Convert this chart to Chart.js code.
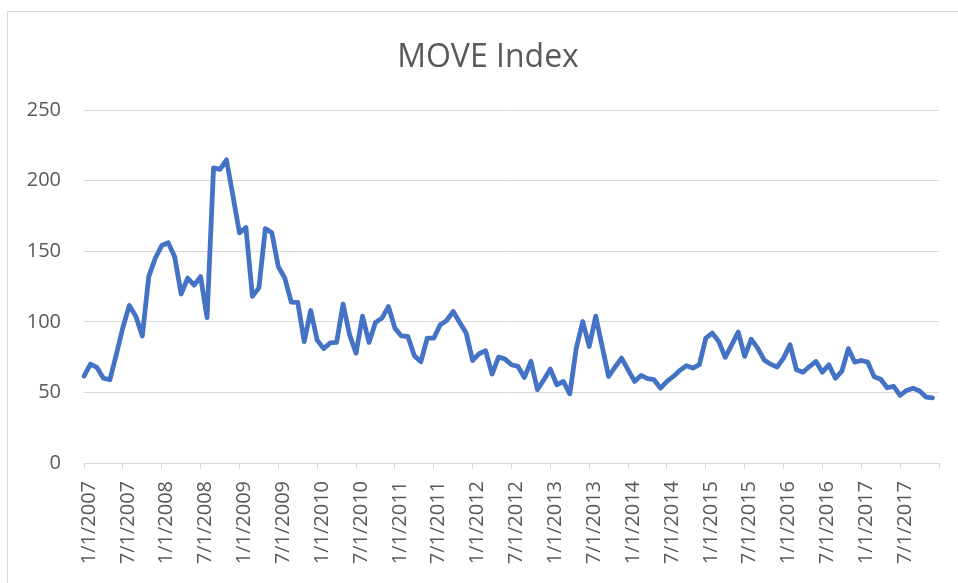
<!DOCTYPE html>
<html>
<head>
<meta charset="utf-8">
<script src="https://cdn.jsdelivr.net/npm/chart.js@4.4.1/dist/chart.umd.min.js"></script>
<style>
    html, body { margin: 0; padding: 0; background: #fff; overflow: hidden; }
    #wrap { position: relative; width: 958px; height: 583px; }
    #frame {
        position: absolute; left: 7px; top: 11px;
        width: 1000px; height: 700px;
        border: 1px solid #d9d9d9;
    }
    #chart { position: absolute; left: 0; top: 0; }
</style>
</head>
<body>
<div id="wrap">
    <div id="frame"></div>
    <canvas id="chart" width="958" height="583"></canvas>
</div>
<script>
// -----------------------------
// data (monthly, 2007 - 2017)
// -----------------------------
const years = [2007, 2008, 2009, 2010, 2011, 2012, 2013, 2014, 2015, 2016, 2017];

const moveIndex = [
    61.5, 70, 67.7, 60, 59, 77, 96, 111.6, 104, 90, 132, 145,            // 2007
    154, 156, 146, 119.7, 131, 126, 132, 103, 209, 208, 214.7, 189,       // 2008
    163, 166.7, 118, 124, 166, 163, 139, 131, 114, 113.8, 86, 108,        // 2009
    87, 81, 85, 85.4, 112.5, 90.8, 77.8, 104, 85.4, 99.5, 102.6, 110.8,   // 2010
    95.5, 90, 89.6, 76, 71.7, 88.4, 88.4, 97.9, 101, 107.3, 99.5, 92,     // 2011
    72.6, 77.4, 79.5, 63, 75, 73.6, 69.6, 68.4, 60.6, 72, 52, 59,         // 2012
    66.5, 55.4, 57.8, 49, 81.4, 100.2, 82.5, 104, 82.5, 61.3, 68, 74.3,   // 2013
    66, 57.8, 62, 59.7, 59, 53, 57.8, 61.3, 65.6, 68.9, 67.2, 69.6,       // 2014
    88.4, 92, 86, 74.8, 83.7, 92.7, 75.5, 87.7, 81.4, 73, 70, 68,         // 2015
    74.3, 83.8, 66, 64.3, 68.3, 71.9, 64.3, 69.5, 60, 65, 81, 71.4,       // 2016
    72.6, 71.4, 61, 59.3, 53.3, 54.3, 47.9, 51.4, 53, 51, 46.7, 46.2      // 2017
];

const tickLabels = [
    "1/1/2007", "7/1/2007", "1/1/2008", "7/1/2008", "1/1/2009", "7/1/2009",
    "1/1/2010", "7/1/2010", "1/1/2011", "7/1/2011", "1/1/2012", "7/1/2012",
    "1/1/2013", "7/1/2013", "1/1/2014", "7/1/2014", "1/1/2015", "7/1/2015",
    "1/1/2016", "7/1/2016", "1/1/2017", "7/1/2017"
];

const yTicks = [0, 50, 100, 150, 200, 250];

// categories: every month, plus the axis end (1/1/2018)
const months = [];
years.forEach(y => {
    for (let m = 1; m <= 12; m++) months.push(m + "/1/" + y);
});
months.push("1/1/2018");

const GRID = "#d9d9d9";
const TEXT = "#595959";
const FONT = "'Open Sans', 'Liberation Sans', sans-serif";

new Chart(document.getElementById("chart"), {
    type: "line",
    data: {
        labels: months,
        datasets: [{
            label: "MOVE Index",
            data: moveIndex,
            borderColor: "#4472c4",
            borderWidth: 4.8,
            borderJoinStyle: "round",
            borderCapStyle: "round",
            pointRadius: 0,
            tension: 0
        }]
    },
    options: {
        responsive: false,
        animation: false,
        // title is centred over 20..956; plot area is held at 84..939 by the axes
        layout: { padding: { left: 20, right: 2, top: 0, bottom: 0 } },
        plugins: {
            legend: { display: false },
            tooltip: { enabled: false },
            title: {
                display: true,
                text: "MOVE Index",
                color: TEXT,
                font: { family: FONT, size: 32, weight: "normal", lineHeight: 1.2 },
                padding: { top: 39, bottom: 32.6 }
            }
        },
        scales: {
            x: {
                offset: false,
                afterFit: s => {
                    s.height = 120;
                    s.paddingLeft = 0;
                    s.paddingRight = 19;
                },
                border: { display: true, color: GRID, width: 1 },
                grid: {
                    drawOnChartArea: false,
                    drawTicks: true,
                    tickLength: 6,
                    color: c => (c.index % 6 === 0 ? GRID : "rgba(0,0,0,0)")
                },
                ticks: {
                    autoSkip: false,
                    minRotation: 90,
                    maxRotation: 90,
                    padding: 12,
                    labelOffset: 5,
                    color: TEXT,
                    font: { family: FONT, size: 20 },
                    callback: function (v, i) {
                        const l = months[i];
                        return tickLabels.includes(l) ? l : "";
                    }
                }
            },
            y: {
                min: 0,
                max: 250,
                afterFit: s => { s.width = 64; },
                afterBuildTicks: s => { s.ticks = yTicks.map(v => ({ value: v })); },
                border: { display: false },
                grid: { color: GRID, lineWidth: 1, drawTicks: false },
                ticks: {
                    padding: 23,
                    color: TEXT,
                    font: { family: FONT, size: 20 }
                }
            }
        }
    }
});
</script>
</body>
</html>
